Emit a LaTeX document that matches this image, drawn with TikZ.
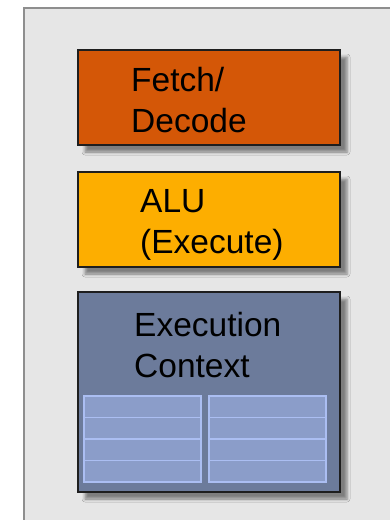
\documentclass[tikz,border=0pt]{standalone}
\usepackage{fontspec}
\setmainfont{Liberation Sans}
\usetikzlibrary{shadows.blur}
\definecolor{panelfill}{HTML}{E6E6E6}
\definecolor{panelline}{HTML}{8E8E8E}
\definecolor{fetchcol}{HTML}{D45707}
\definecolor{alucol}{HTML}{FDAE00}
\definecolor{ctxcol}{HTML}{6C7B9B}
\definecolor{regfill}{HTML}{8B9DC9}
\definecolor{regline}{HTML}{ABBEF2}
\definecolor{boxline}{HTML}{1E1E1E}
\tikzset{
  unitbox/.style={draw=boxline, line width=1.4pt, rectangle, inner sep=0pt,
    minimum width=262pt, minimum height=95pt,
    blur shadow={shadow xshift=7pt, shadow yshift=-7pt, shadow blur radius=3pt, shadow opacity=45}},
  % anchored on the baseline of the last line
  boxtext/.style={anchor=base west, inner sep=0pt, align=left,
    font=\fontsize{33.5}{41}\selectfont, text=black},
  regcell/.style={fill=regfill, draw=regline, line width=1.3pt}
}
\begin{document}
\begin{tikzpicture}[x=1pt, y=-1pt]
  \useasboundingbox (0,0) rectangle (389,520);
  % core panel
  \fill[white] (0,0) rectangle (389,520);
  \fill[panelfill] (24,8) rectangle (400,535);
  \draw[panelline, line width=2.5pt] (24,535) -- (24,8) -- (400,8);
  % pipeline units
  \node[unitbox, fill=fetchcol] (fetch) at (209,97.5) {};
  \node[unitbox, fill=alucol] (alu) at (209,219.5) {};
  \node[unitbox, fill=ctxcol, minimum height=200pt] (ctx) at (209,392) {};
  % labels
  \node[boxtext] (fetchlbl) at (131,132) {Fetch/\\Decode};
  \node[boxtext] (alulbl) at (140,253) {ALU\\(Execute)};
  \node[boxtext] (ctxlbl) at (134,377) {Execution\\Context};
  % register file: two columns of four rows
  \foreach \x in {84,209} {
    \foreach \y in {396,417.5,439,460.5} {
      \draw[regcell] (\x,\y) rectangle ++(117,21.5);
    }
  }
\end{tikzpicture}
\end{document}
